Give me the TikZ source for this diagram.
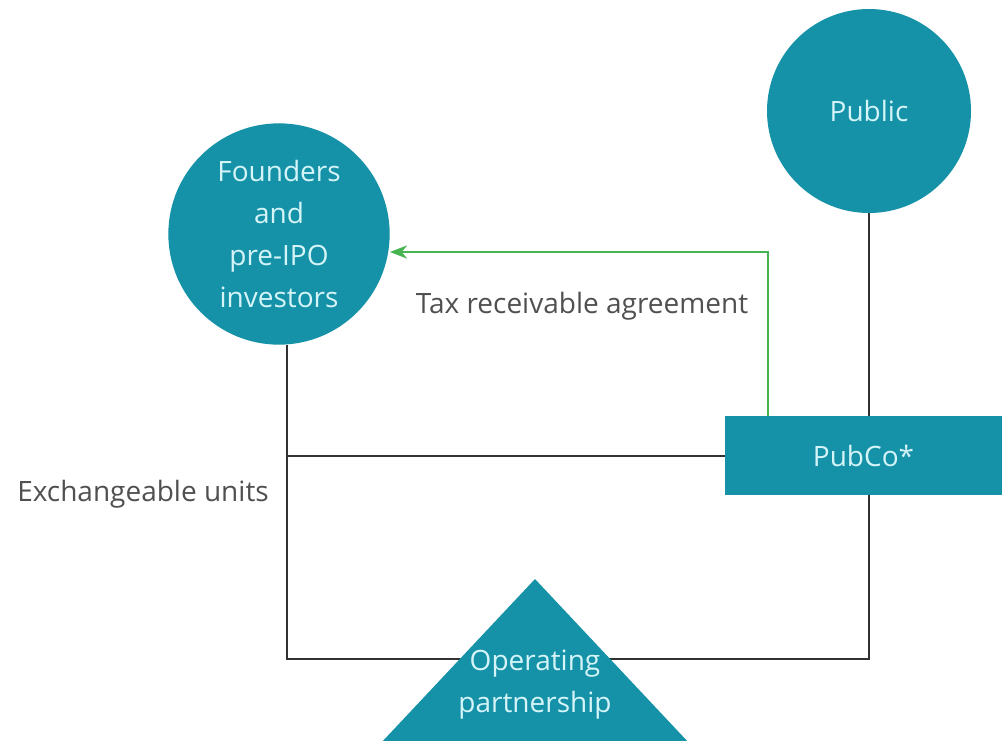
\documentclass[tikz,border=0pt]{standalone}
\usepackage{fontspec}
\setmainfont{Open Sans}
\usetikzlibrary{arrows.meta}

\definecolor{tealfill}{RGB}{22,146,168}
\definecolor{lighttext}{RGB}{212,244,248}
\definecolor{labelgrey}{RGB}{80,80,80}
\definecolor{linegrey}{RGB}{50,50,50}
\definecolor{taxgreen}{RGB}{70,180,80}

\begin{document}
\begin{tikzpicture}[x=0.75pt,y=0.75pt,yscale=-1,xscale=1,
  bigfont/.style={font=\fontsize{21}{31.5}\selectfont},
  party/.style={circle,fill=tealfill,text=lighttext,align=center,inner sep=0pt,bigfont},
  entity/.style={rectangle,fill=tealfill,text=lighttext,inner sep=0pt,bigfont},
  label/.style={text=labelgrey,bigfont},
  link/.style={draw=linegrey,line width=1.5pt},
  taxlink/.style={draw=taxgreen,line width=1.1pt,-{Stealth[length=13pt,width=10pt]}}]
\useasboundingbox (0,0) rectangle (1002,740);

% Parties
\node[party,minimum size=153pt] (public) at (869,111) {Public};
\node[party,minimum size=166pt] (founders) at (279,234) {Founders\\and\\pre-IPO\\investors};

% PubCo box
\node[entity,minimum width=208pt,minimum height=59pt] (pubco) at (863.5,455.5) {PubCo*};

% Corner points
\coordinate (fdrop) at (287,345);
\coordinate (opline) at (535,659);
\coordinate (taxturn) at (768,252);

% Connectors
\draw[link] (public.south) -- (public.south |- pubco.north);
\draw[link] (fdrop) |- (opline) -| (public.south |- pubco.south);
\draw[link] (fdrop |- pubco.west) -- (pubco.west);
\draw[taxlink] (pubco.north -| taxturn) -- (taxturn) -- (founders.east |- taxturn);

% Operating partnership
\fill[tealfill] (535,579) -- (690,744) -- (380,744) -- cycle;
\node[text=lighttext,align=center,bigfont] (oppart) at (535,685) {Operating\\partnership};

% Text Node
\node[label] (taxlabel) at (582,306) {Tax receivable agreement};
% Text Node
\node[label] (exlabel) at (143,494) {Exchangeable units};

\end{tikzpicture}
\end{document}
